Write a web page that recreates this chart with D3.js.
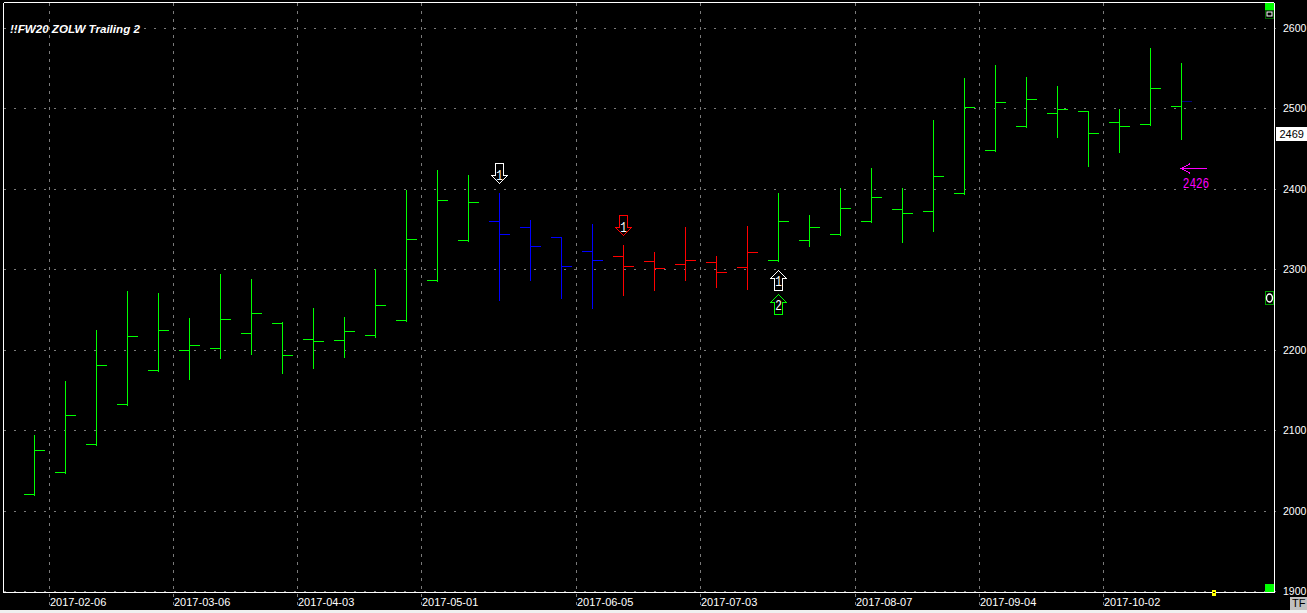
<!DOCTYPE html>
<html>
<head>
<meta charset="utf-8">
<style>
html,body{margin:0;padding:0;background:#000;overflow:hidden}
svg{display:block}
text{font-family:"Liberation Sans",Arial,sans-serif;font-size:11px;fill:#fff}
</style>
<script src="https://cdn.jsdelivr.net/npm/d3@7"></script>
</head>
<body>
<svg id="c" width="1307" height="613"></svg>
<script>
const weeks = ["2017-01-30","2017-02-06","2017-02-13","2017-02-20","2017-02-27","2017-03-06","2017-03-13","2017-03-20","2017-03-27","2017-04-03","2017-04-10","2017-04-17","2017-04-24","2017-05-01","2017-05-08","2017-05-15","2017-05-22","2017-05-29","2017-06-05","2017-06-12","2017-06-19","2017-06-26","2017-07-03","2017-07-10","2017-07-17","2017-07-24","2017-07-31","2017-08-07","2017-08-14","2017-08-21","2017-08-28","2017-09-04","2017-09-11","2017-09-18","2017-09-25","2017-10-02","2017-10-09","2017-10-16"];
const opens  = [2020.6,2048,2082.8,2132.5,2174.8,2199.7,2202.1,2220.8,2233.2,2213.3,2212.1,2218.3,2237,2286.7,2336.4,2360,2352.6,2340.1,2322.7,2316.5,2310.3,2306.6,2309.1,2302.9,2311.6,2336.4,2343.9,2360,2375,2372.5,2394.9,2448.3,2478.2,2494.3,2496.8,2483.1,2480.6,2503];
const highs  = [2095.6,2162.7,2225.8,2274.6,2272.1,2241.1,2295.8,2289.5,2236.1,2253.5,2242.3,2302,2400.2,2425.1,2418.9,2396.5,2362.5,2340.1,2357.6,2331.8,2323.1,2354.2,2318.1,2355.4,2396.5,2369.1,2402.3,2427.6,2402.3,2487.2,2539.1,2555.6,2540.7,2529.5,2496.8,2500.5,2576.8,2557.7];
const lows   = [2020.6,2048,2082.8,2132.5,2174.8,2164.4,2190.5,2195.4,2171.8,2178,2191.7,2216.6,2237,2286.7,2336.4,2263.4,2288.3,2265.9,2253.1,2269.7,2275.9,2287.4,2279.6,2277.1,2311.6,2330.6,2343.9,2360,2334.7,2349.2,2394.9,2448.3,2478.2,2466.1,2430,2447.4,2480.6,2462.7];
const closes = [2075.3,2118.8,2181,2217.1,2224.5,2205.9,2238.2,2245.7,2193.4,2210.8,2223.3,2255.6,2337.7,2386.2,2383.7,2343.9,2329,2304.1,2311.6,2304.1,2301.6,2311.6,2296.6,2321.5,2360,2352.6,2376.2,2389.9,2370,2416,2501.8,2508,2511.7,2499.3,2469.5,2478.2,2525.4,2509.2];
const barStates = ["g","g","g","g","g","g","g","g","g","g","g","g","g","g","g","b","b","b","b","r","r","r","r","r","g","g","g","g","g","g","g","g","g","g","g","g","g","g"];
const tickDates = ["2017-02-06","2017-03-06","2017-04-03","2017-05-01","2017-06-05","2017-07-03","2017-08-07","2017-09-04","2017-10-02"];
const priceTicks = [1900,2000,2100,2200,2300,2400,2500,2600];
const title = "!!FW20 ZOLW Trailing 2";
const lastPrice = 2469;
const stopWeek = "2017-10-16", stopPrice = 2426, stopLabel = "2426";
const arrowWeeks  = ["2017-05-15","2017-06-12","2017-07-17","2017-07-17"];
const arrowPrices = [2408,2343.4,2299.1,2269.3];
const arrowDirs   = ["down","down","up","up"];
const arrowLabels = ["1","1","1","2"];
const arrowColors = ["#fff","#f00","#fff","#0f0"];

const stateColor = {g:"#00ff00",b:"#0000ff",r:"#ff0000"};
const L = 3.5, R = 1274, T = 2.5, B = 592.5;
const svg = d3.select("#c");
svg.append("rect").attr("width",1307).attr("height",613).attr("fill","#000");

const x = d3.scaleBand().domain(weeks).range([18.5, 18.5 + 31*weeks.length]).padding(0);
const y = d3.scaleLinear().domain([1900,2600]).range([591.3,28.3]);
const cx = d => Math.round(x(d) + x.bandwidth()/2 - 0.2) + 0.5;
const py = v => Math.round(y(v) - 0.3) + 0.5;

// horizontal grid + price axis
const yAxis = d3.axisRight(y).tickValues(priceTicks).tickFormat(d3.format("d")).tickSize(0);
const gy = svg.append("g").attr("transform",`translate(${R},0)`).call(yAxis);
gy.select(".domain").remove();
gy.selectAll("text").attr("x",9).attr("dy",null).attr("y",3.5).attr("text-anchor","start").style("font-size","10.5px").style("fill","#fff").style("font-family",'"Liberation Sans"');
gy.selectAll("g.tick").each(function(d){
  d3.select(this).attr("transform",`translate(0,${py(d)})`);
  d3.select(this).select("line").attr("x1",-(R-L)).attr("x2",6).attr("stroke","#7a7a7a").attr("stroke-dasharray","2 8").attr("shape-rendering","crispEdges");
});

// vertical grid + date axis
const xAxis = d3.axisBottom(x).tickValues(tickDates).tickSize(0);
const gx = svg.append("g").attr("transform",`translate(0,${B})`).call(xAxis);
gx.select(".domain").remove();
gx.selectAll("g.tick").each(function(d){
  const tx = Math.round(x(d)) + 0.5 - 1;
  d3.select(this).attr("transform",`translate(${tx},0)`);
  d3.select(this).select("line").attr("y1",-(B-T)).attr("y2",15).attr("stroke","#7a7a7a").attr("stroke-dasharray","3 5").attr("shape-rendering","crispEdges");
  d3.select(this).select("text").attr("x",0.5).attr("y",13.5).attr("dy",null).attr("text-anchor","start").style("font-size","11px").style("fill","#fff").style("font-family",'"Liberation Sans"');
});

// frame
const frame = svg.append("g").attr("stroke","#fff").attr("shape-rendering","crispEdges");
frame.append("line").attr("x1",L).attr("x2",L).attr("y1",T).attr("y2",B);
frame.append("line").attr("x1",R).attr("x2",R).attr("y1",T).attr("y2",B);
frame.append("line").attr("x1",L).attr("x2",R).attr("y1",T).attr("y2",T);
frame.append("line").attr("x1",L).attr("x2",R).attr("y1",B).attr("y2",B);

// OHLC bars
const bars = svg.append("g").attr("shape-rendering","crispEdges").selectAll("g").data(weeks).join("g")
  .attr("stroke",(d,i)=>stateColor[barStates[i]]);
bars.append("line").attr("x1",d=>cx(d)).attr("x2",d=>cx(d)).attr("y1",(d,i)=>py(highs[i])).attr("y2",(d,i)=>py(lows[i])+1);
bars.append("line").attr("x1",d=>cx(d)-10.5).attr("x2",d=>cx(d)).attr("y1",(d,i)=>py(opens[i])).attr("y2",(d,i)=>py(opens[i]));
bars.append("line").attr("x1",d=>cx(d)).attr("x2",d=>cx(d)+10.5).attr("y1",(d,i)=>py(closes[i])).attr("y2",(d,i)=>py(closes[i]))
  .attr("stroke",(d,i)=> i===weeks.length-1 ? "#000080" : null);

// signal arrows
function arrowPath(dir){
  return dir==="down" ? "M-4,-20V-8H-8L0,0L8,-8H4V-20Z" : "M-4,20V8H-8L0,0L8,8H4V20Z";
}
function pixelText(sel, str, px, pyy, sy){
  return sel.append("text").text(str)
    .attr("transform",`translate(${px},${pyy}) scale(1,${sy})`)
    .attr("text-anchor","middle")
    .style("font-family",'"Liberation Mono"').style("font-size","11px");
}
const arrows = svg.append("g");
arrowWeeks.forEach((w,i)=>{
  const g = arrows.append("g").attr("transform",`translate(${cx(w)},${Math.round(y(arrowPrices[i]))+0.5})`);
  g.append("path").attr("d",arrowPath(arrowDirs[i])).attr("fill","#000").attr("stroke",arrowColors[i]).attr("stroke-width",1).attr("shape-rendering","crispEdges");
  pixelText(g, arrowLabels[i], 0, arrowDirs[i]==="down" ? -3.5 : 15.7, 1.4).style("fill","#fff");
});

// stop arrow
const sx = cx(stopWeek), sy = Math.round(y(stopPrice)) + 0.5;
const stop = svg.append("g").attr("stroke","#ff00ff").attr("fill","none");
stop.append("line").attr("x1",sx).attr("x2",sx+25).attr("y1",sy).attr("y2",sy).attr("shape-rendering","crispEdges");
stop.append("path").attr("d",`M${sx+9},${sy-5}L${sx},${sy}L${sx+9},${sy+5}`).attr("shape-rendering","crispEdges");
pixelText(svg, stopLabel, sx+14.5, sy+19.5, 1.4).style("fill","#ff00ff");

// last-price tag
const tagY = y(lastPrice);
svg.append("rect").attr("x",1276).attr("y",Math.round(tagY)-7).attr("width",31).attr("height",14).attr("fill","#fff");
svg.append("text").attr("x",1279.5).attr("y",Math.round(tagY)+4).text(lastPrice).style("fill","#000");

// title
svg.append("text").attr("x",10).attr("y",33).text(title).style("font-weight","bold").style("font-style","italic").style("font-size","11.6px");

// window furniture
svg.append("rect").attr("x",1265).attr("y",3).attr("width",9).attr("height",8).attr("fill","#00ff00");
svg.append("rect").attr("x",1265.5).attr("y",10.5).attr("width",8).attr("height",8).attr("fill","#000").attr("stroke","#006400");
svg.append("rect").attr("x",1267).attr("y",12).attr("width",5).attr("height",4).attr("fill","#000").attr("stroke","#fff");
svg.append("rect").attr("x",1265).attr("y",584).attr("width",9).attr("height",8).attr("fill","#00ff00");
svg.append("rect").attr("x",1212).attr("y",590).attr("width",4).attr("height",6).attr("fill","#ffff00");
svg.append("rect").attr("x",1213).attr("y",592).attr("width",2).attr("height",1).attr("fill","#000");
svg.append("rect").attr("x",1265.5).attr("y",291.5).attr("width",8).attr("height",13).attr("fill","#000").attr("stroke","#00a000");
svg.append("ellipse").attr("cx",1269.5).attr("cy",298).attr("rx",3).attr("ry",4).attr("fill","none").attr("stroke","#fff").attr("stroke-width",1.4);

// TF button and bottom strip
svg.append("rect").attr("x",0).attr("y",610).attr("width",1307).attr("height",3).attr("fill","#f0f0f0");
svg.append("rect").attr("x",1290).attr("y",597).attr("width",17).attr("height",13).attr("fill","#c0c0c0");
svg.append("text").attr("x",1292).attr("y",607).text("TF").style("fill","#000").style("font-size","11px");
</script>
</body>
</html>
